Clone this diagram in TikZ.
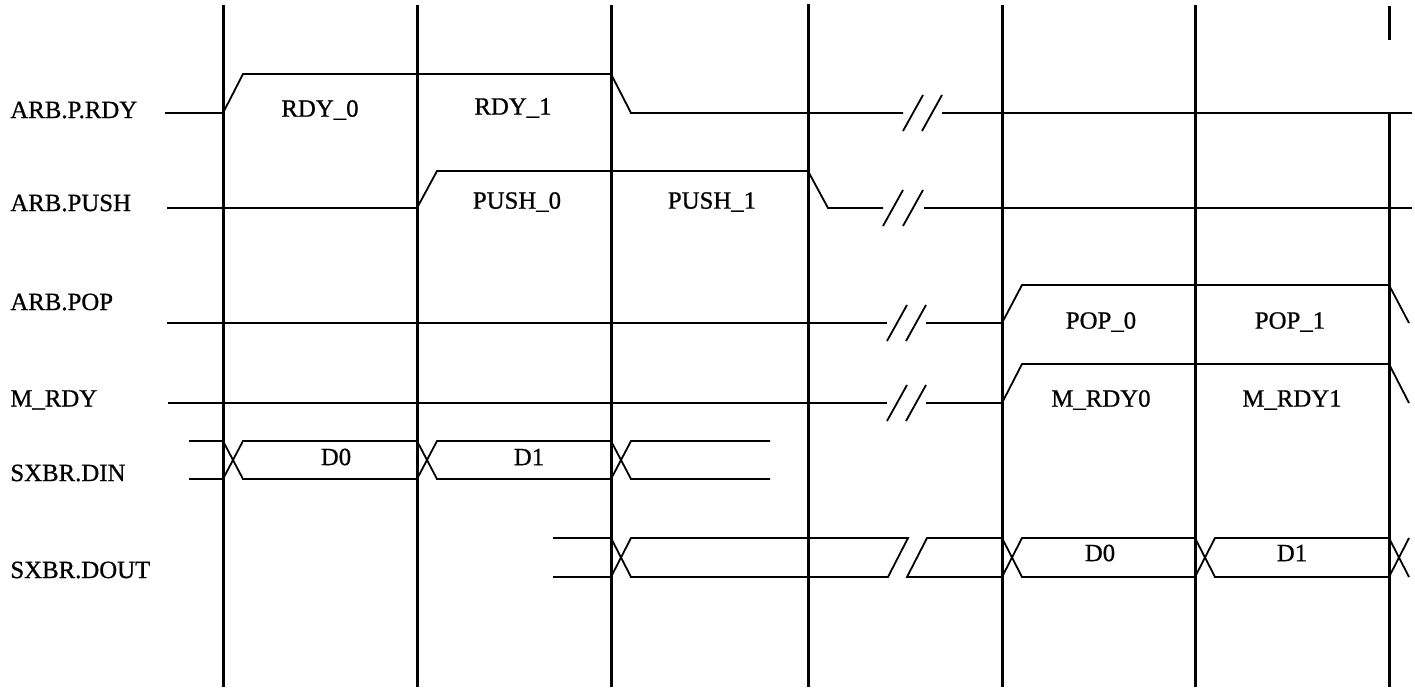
\documentclass[tikz,border=0pt]{standalone}
\usepackage{fontspec}
\setmainfont{Liberation Serif}[FakeBold=0.8]

\begin{document}
\begin{tikzpicture}[x=0.5pt,y=0.5pt,yscale=-1,xscale=1,
	clkline/.style={line width=1.5pt},
	wave/.style={line width=0.9pt},
	lbl/.style={font=\fontsize{12.4}{14}\selectfont},
	sname/.style={lbl,anchor=west,inner sep=0pt}]
	\useasboundingbox (0,0) rectangle (1415,687);

	%Straight Lines (clock edges)
	\draw [clkline]   (223,5) -- (223,687) ;
	\draw [clkline]   (417,5) -- (417,687) ;
	\draw [clkline]   (611,5) -- (611,687) ;
	\draw [clkline]   (808,4) -- (808,687) ;
	\draw [clkline]   (1002,5) -- (1002,687) ;
	\draw [clkline]   (1195,5) -- (1195,687) ;
	\draw [clkline]   (1389,113) -- (1389,687) ;
	\draw [clkline]   (1389,6) -- (1389,40) ;

	%Straight Lines (ARB.P.RDY)
	\draw [wave]   (165,113) -- (223,113) -- (243,74) -- (611,74) -- (631,113) -- (903,113) ;
	\draw [wave]   (942,113) -- (1412,113) ;
	\draw [wave]   (903,131) -- ++(20,-36) (922,131) -- ++(20,-36) ;
	%Straight Lines (ARB.PUSH)
	\draw [wave]   (167,208) -- (417,208) -- (437,171) -- (808,171) -- (828,208) -- (883,208) ;
	\draw [wave]   (924,208) -- (1412,208) ;
	\draw [wave]   (883,226) -- ++(20,-36) (903,226) -- ++(20,-36) ;
	%Straight Lines (ARB.POP)
	\draw [wave]   (167,323) -- (887,323) ;
	\draw [wave]   (926,323) -- (1002,323) -- (1022,285) -- (1389,285) -- (1409,323) ;
	\draw [wave]   (887,341) -- ++(20,-36) (906,341) -- ++(20,-36) ;
	%Straight Lines (M_RDY)
	\draw [wave]   (168,403) -- (887,403) ;
	\draw [wave]   (926,403) -- (1002,403) -- (1022,364) -- (1389,364) -- (1409,403) ;
	\draw [wave]   (887,421) -- ++(20,-36) (906,421) -- ++(20,-36) ;
	%Straight Lines (SXBR.DIN)
	\draw [wave]   (189,441) -- (223,441) -- (243,479) -- (417,479) -- (437,441) -- (611,441) -- (631,479) -- (770,479) ;
	\draw [wave]   (189,479) -- (223,479) -- (243,441) -- (417,441) -- (437,479) -- (611,479) -- (631,441) -- (770,441) ;
	%Straight Lines (SXBR.DOUT)
	\draw [wave]   (553,538) -- (611,538) -- (631,577) -- (888,577) -- (908,538) -- (631,538) -- (611,577) -- (553,577) ;
	\draw [wave]   (1409,577) -- (1389,538) -- (1215,538) -- (1195,577) -- (1022,577) -- (1002,538) -- (927,538) -- (907,577) -- (1002,577) -- (1022,538) -- (1195,538) -- (1215,577) -- (1389,577) -- (1409,538) ;

	% Text Node
	\draw (10,110) node [sname] (nrdy) {ARB.P.RDY};
	% Text Node
	\draw (10,203) node [sname] (npush) {ARB.PUSH};
	% Text Node
	\draw (10,302) node [sname] (npop) {ARB.POP};
	% Text Node
	\draw (10,400) node [sname] (nmrdy) {M\_RDY};
	% Text Node
	\draw (10,473) node [sname] (ndin) {SXBR.DIN};
	% Text Node
	\draw (10,570) node [sname] (ndout) {SXBR.DOUT};
	% Text Node
	\draw (320,110) node [lbl] (rdy0) {RDY\_0};
	% Text Node
	\draw (513,108) node [lbl] (rdy1) {RDY\_1};
	% Text Node
	\draw (517,202) node [lbl] (push0) {PUSH\_0};
	% Text Node
	\draw (712,202) node [lbl] (push1) {PUSH\_1};
	% Text Node
	\draw (1101,322) node [lbl] (pop0) {POP\_0};
	% Text Node
	\draw (1290,322) node [lbl] (pop1) {POP\_1};
	% Text Node
	\draw (1101,400) node [lbl] (mrdy0) {M\_RDY0};
	% Text Node
	\draw (1292,400) node [lbl] (mrdy1) {M\_RDY1};
	% Text Node
	\draw (336,457) node [lbl] (din0) {D0};
	% Text Node
	\draw (529,457) node [lbl] (din1) {D1};
	% Text Node
	\draw (1100,553) node [lbl] (dout0) {D0};
	% Text Node
	\draw (1292,553) node [lbl] (dout1) {D1};
\end{tikzpicture}
\end{document}
